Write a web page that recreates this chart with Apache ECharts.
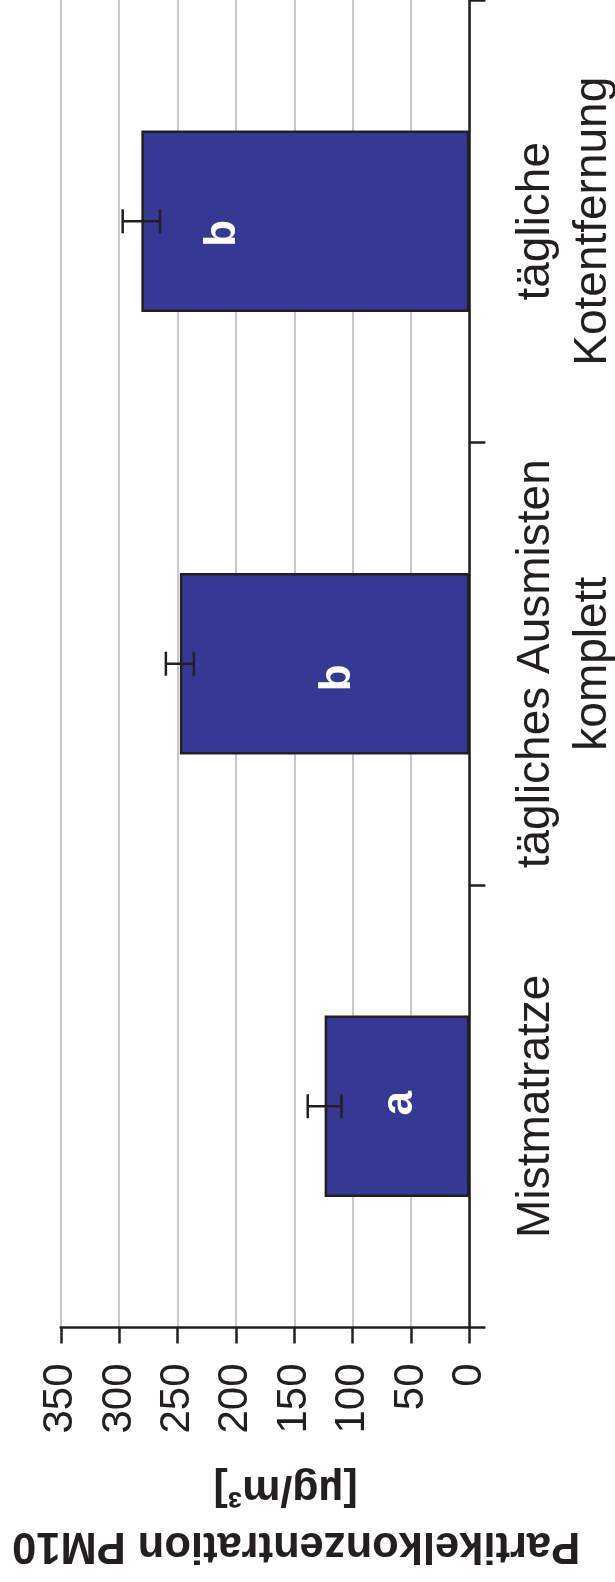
<!DOCTYPE html>
<html>
<head>
<meta charset="utf-8">
<script src="https://cdn.jsdelivr.net/npm/echarts@6/dist/echarts.min.js"></script>
<style>
  html, body { margin: 0; padding: 0; background: #ffffff; }
  #chart { width: 615px; height: 1582px; }
</style>
</head>
<body>
<div id="chart"></div>
<script>
// ---- data ----
const categories = ['Mistmatratze', 'tägliches Ausmisten\nkomplett', 'tägliche\nKotentfernung'];
const means = [124, 248, 281];
const errors = [14.5, 12, 16];
const letters = ['a', 'b', 'b'];
const valueTicks = [0, 50, 100, 150, 200, 250, 300, 350];
const axisTitle = 'Partikelkonzentration PM10';
const axisUnit = '[µg/m³]';

// ---- styling (not data) ----
const letterOffsets = [[3, 3], [-14, 13], [-12, -83]];
const ink = '#231f20';
const font = 'Liberation Sans, Arial, sans-serif';

const chart = echarts.init(document.getElementById('chart'), null, { renderer: 'canvas' });

const barData = means.map((v, i) => ({
  value: v,
  label: { formatter: letters[i], offset: letterOffsets[i] }
}));
const errData = means.map((v, i) => [i, v, errors[i]]);

chart.setOption({
  animation: false,
  backgroundColor: '#ffffff',
  grid: { left: 60.8, right: 145.6, top: 0, bottom: 254.5, containLabel: false, outerBoundsMode: 'none' },
  xAxis: {
    type: 'value',
    position: 'bottom',
    inverse: true,
    min: valueTicks[0],
    max: valueTicks[valueTicks.length - 1],
    interval: valueTicks[1] - valueTicks[0],
    axisLine: { show: true, lineStyle: { color: ink, width: 2.5 } },
    axisTick: { show: true, length: 16, lineStyle: { color: ink, width: 2.5 } },
    splitLine: { show: true, lineStyle: { color: '#c8c8c8', width: 2 } },
    axisLabel: { rotate: 90, fontSize: 42, fontFamily: font, color: ink, margin: 36 },
    name: '{t|' + axisTitle + '}\n{u|' + axisUnit + '}',
    nameLocation: 'middle',
    nameRotate: 180,
    nameGap: 133,
    nameMoveOverlap: false,
    nameTextStyle: {
      color: ink,
      fontFamily: font,
      fontWeight: 'bold',
      rich: {
        t: { fontSize: 43.5, fontWeight: 'bold', fontFamily: font, color: ink, lineHeight: 56, padding: [0, 62, 0, 0] },
        u: { fontSize: 43, fontWeight: 'bold', fontFamily: font, color: ink, lineHeight: 56, padding: [0, 41, 0, 0] }
      }
    }
  },
  yAxis: {
    type: 'category',
    position: 'right',
    data: categories,
    axisLine: { show: true, onZero: false, lineStyle: { color: ink, width: 2.5 } },
    axisTick: { show: true, length: 16, lineStyle: { color: ink, width: 2.5 } },
    splitLine: { show: false },
    axisLabel: {
      rotate: 90, fontSize: 46, fontFamily: font, color: ink, margin: 38,
      lineHeight: 57, align: 'center', verticalAlign: 'top', interval: 0
    }
  },
  series: [
    {
      type: 'bar',
      data: barData,
      barCategoryGap: '59%',
      itemStyle: { color: '#363994', borderColor: ink, borderWidth: 2.5 },
      label: {
        show: true,
        position: 'inside',
        rotate: 90,
        color: '#ffffff',
        fontSize: 44,
        fontWeight: 'bold',
        fontFamily: font,
        textBorderWidth: 0
      },
      z: 2
    },
    {
      type: 'custom',
      data: errData,
      encode: { x: [1, 2], y: 0 },
      z: 5,
      renderItem: function (params, api) {
        const c = api.value(0);
        const m = api.value(1);
        const e = api.value(2);
        const p1 = api.coord([m - e, c]);
        const p2 = api.coord([m + e, c]);
        const h = 12;
        const st = { stroke: ink, lineWidth: 2.5, fill: null };
        return {
          type: 'group',
          children: [
            { type: 'line', shape: { x1: p1[0], y1: p1[1], x2: p2[0], y2: p2[1] }, style: st },
            { type: 'line', shape: { x1: p1[0], y1: p1[1] - h, x2: p1[0], y2: p1[1] + h }, style: st },
            { type: 'line', shape: { x1: p2[0], y1: p2[1] - h, x2: p2[0], y2: p2[1] + h }, style: st }
          ]
        };
      }
    }
  ]
});
</script>
</body>
</html>
